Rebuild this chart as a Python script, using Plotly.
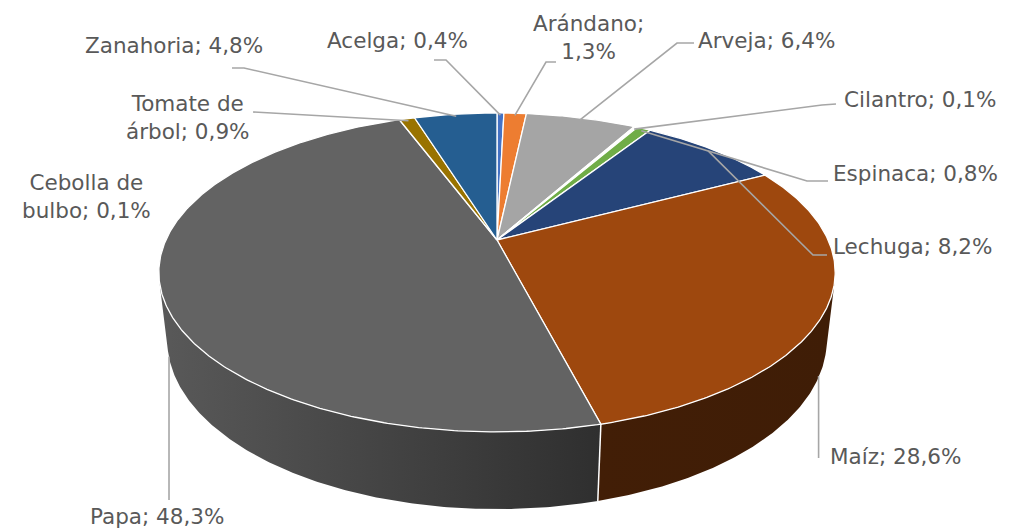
import numpy as np
import plotly.graph_objects as go

# ---------------- data ----------------
categories = ["Acelga", "Arándano", "Arveja", "Cebolla de bulbo", "Cilantro",
              "Espinaca", "Lechuga", "Maíz", "Papa", "Tomate de árbol", "Zanahoria"]
shares = [0.4, 1.3, 6.4, 0.1, 0.1, 0.8, 8.2, 28.6, 48.3, 0.9, 4.8]

# ---------------- styles ----------------
top_colors = ["#4472C4", "#ED7D31", "#A5A5A5", "#FFC000", "#5B9BD5",
              "#70AD47", "#264478", "#9E480E", "#636363", "#997300", "#255E91"]
side_factors = {"Maíz": (0.42, 0.40), "Papa": (0.90, 0.47)}
wrap_after = {"Arándano": True, "Cebolla de bulbo": "de", "Tomate de árbol": "de"}
TEXT_COLOR = "#595959"
LEADER_COLOR = "#A6A6A6"
FONT = dict(family="DejaVu Sans, Verdana, sans-serif", size=21.5, color=TEXT_COLOR)

# label layout (pixel positions + anchor side)
label_pos = {
    "Acelga": (397, 40, "center"), "Arándano": (588, 37, "center"),
    "Arveja": (696, 40, "left"), "Cebolla de bulbo": (86, 196, "center"),
    "Cilantro": (842, 99, "left"), "Espinaca": (831, 173, "left"),
    "Lechuga": (831, 246, "left"), "Maíz": (828, 456, "left"),
    "Papa": (157, 516, "center"), "Tomate de árbol": (252, 117, "right"),
    "Zanahoria": (265, 45, "right"),
}
leader_stub = {
    "Zanahoria": [(232, 68), (244, 68)], "Acelga": [(434, 60), (446, 60)],
    "Arándano": [(556, 62), (546, 62)], "Arveja": [(694, 43), (677, 43)],
    "Cilantro": [(836, 104), (822, 105)], "Espinaca": [(828, 181), (807, 181)],
    "Lechuga": [(827, 255), (813, 255)], "Tomate de árbol": [(253, 112)],
    "Maíz": "vertical:458", "Papa": "vertical:500",
}
anchor_on_side = {"Maíz", "Papa"}

# ---------------- projection (3D perspective pie) ----------------
CX, CY = 497.0, 240.0
F = 1445.0
SIN_A = 0.4617
COS_A = np.sqrt(1 - SIN_A ** 2)
L = 4.364
H = 0.232


def proj(X, Y, Z):
    X, Y, Z = np.asarray(X, float), np.asarray(Y, float), np.asarray(Z, float)
    depth = L + Z * COS_A - Y * SIN_A
    up = Y * COS_A + Z * SIN_A
    return CX + F * X / depth, CY - F * up / depth


def darken(hexc, f):
    hexc = hexc.lstrip("#")
    r, g, b = (int(hexc[i:i + 2], 16) for i in (0, 2, 4))
    return "rgb(%d,%d,%d)" % (round(r * f), round(g * f), round(b * f))


vals = np.array(shares, float)
cum = np.concatenate([[0], np.cumsum(vals)]) / vals.sum() * 360.0
starts, ends = cum[:-1], cum[1:]
mids = (starts + ends) / 2

theta_s = np.degrees(np.arccos(-1.0 / (L * COS_A)))  # visible side range

fig = go.Figure()

# ---- sides ----
for i, cat in enumerate(categories):
    a, b = max(starts[i], theta_s), min(ends[i], 360 - theta_s)
    if b <= a:
        continue
    t = np.radians(np.linspace(a, b, max(3, int((b - a) * 2))))
    xt, yt = proj(np.sin(t), 0 * t, np.cos(t))
    xb, yb = proj(np.sin(t), -H + 0 * t, np.cos(t))
    xs = np.concatenate([xt, xb[::-1], xt[:1]])
    ys = np.concatenate([yt, yb[::-1], yt[:1]])
    fl, fr = side_factors.get(cat, (0.5, 0.45))
    fig.add_trace(go.Scatter(
        x=xs, y=ys, mode="lines", fill="toself", line=dict(width=0),
        fillgradient=dict(type="horizontal",
                          colorscale=[[0, darken(top_colors[i], fl)],
                                      [1, darken(top_colors[i], fr)]]),
        hoverinfo="skip", showlegend=False))

# vertical white edges between visible sides
for bnd in starts[1:]:
    if theta_s < bnd < 360 - theta_s:
        t = np.radians(bnd)
        x0, y0 = proj(np.sin(t), 0, np.cos(t))
        x1, y1 = proj(np.sin(t), -H, np.cos(t))
        fig.add_trace(go.Scatter(x=[float(x0), float(x1)], y=[float(y0), float(y1)],
                                 mode="lines", line=dict(color="white", width=1.5),
                                 hoverinfo="skip", showlegend=False))

# ---- top faces ----
for i, cat in enumerate(categories):
    a, b = starts[i], ends[i]
    t = np.radians(np.linspace(a, b, max(2, int((b - a) * 2) + 1)))
    xa, ya = proj(np.sin(t), 0 * t, np.cos(t))
    xs = np.concatenate([[CX], xa, [CX]])
    ys = np.concatenate([[CY], ya, [CY]])
    fig.add_trace(go.Scatter(
        x=xs, y=ys, mode="lines", fill="toself", fillcolor=top_colors[i],
        line=dict(color="white", width=1.3), hoverinfo="skip", showlegend=False))

# ---- labels and leader lines ----
for i, cat in enumerate(categories):
    pct = ("%.1f" % shares[i]).replace(".", ",") + "%"
    w = wrap_after.get(cat)
    if w is True:
        text = f"{cat};<br>{pct}"
    elif isinstance(w, str):
        head, tail = cat.split(" " + w + " ", 1) if (" " + w + " ") in cat else (cat, "")
        text = f"{head} {w}<br>{tail}; {pct}"
    else:
        text = f"{cat}; {pct}"
    lx, ly, anc = label_pos[cat]
    fig.add_annotation(x=lx, y=ly, text=text, showarrow=False, xref="x", yref="y",
                       xanchor=anc, yanchor="middle", font=FONT, align="center")

    stub = leader_stub.get(cat)
    if stub is None:
        continue
    t = np.radians(mids[i])
    if cat in anchor_on_side:
        ax, ay = proj(np.sin(t), -H * 0.97, np.cos(t))
    else:
        ax, ay = proj(np.sin(t) * 0.98, 0, np.cos(t) * 0.98)
    ax, ay = float(ax), float(ay)
    if isinstance(stub, str):
        ystart = float(stub.split(":")[1])
        pts = [(ax, ystart), (ax, ay)]
    else:
        pts = list(stub) + [(ax, ay)]
    fig.add_trace(go.Scatter(x=[p[0] for p in pts], y=[p[1] for p in pts], mode="lines",
                             line=dict(color=LEADER_COLOR, width=1.6),
                             hoverinfo="skip", showlegend=False))

fig.update_layout(
    width=1015, height=529, margin=dict(l=0, r=0, t=0, b=0),
    paper_bgcolor="white", plot_bgcolor="white",
    xaxis=dict(range=[0, 1015], visible=False, fixedrange=True),
    yaxis=dict(range=[529, 0], visible=False, fixedrange=True),
    showlegend=False,
)

fig.write_html("out.html", config={"displayModeBar": False},
               post_script="document.body.style.margin='0';document.body.style.overflow='hidden';")
